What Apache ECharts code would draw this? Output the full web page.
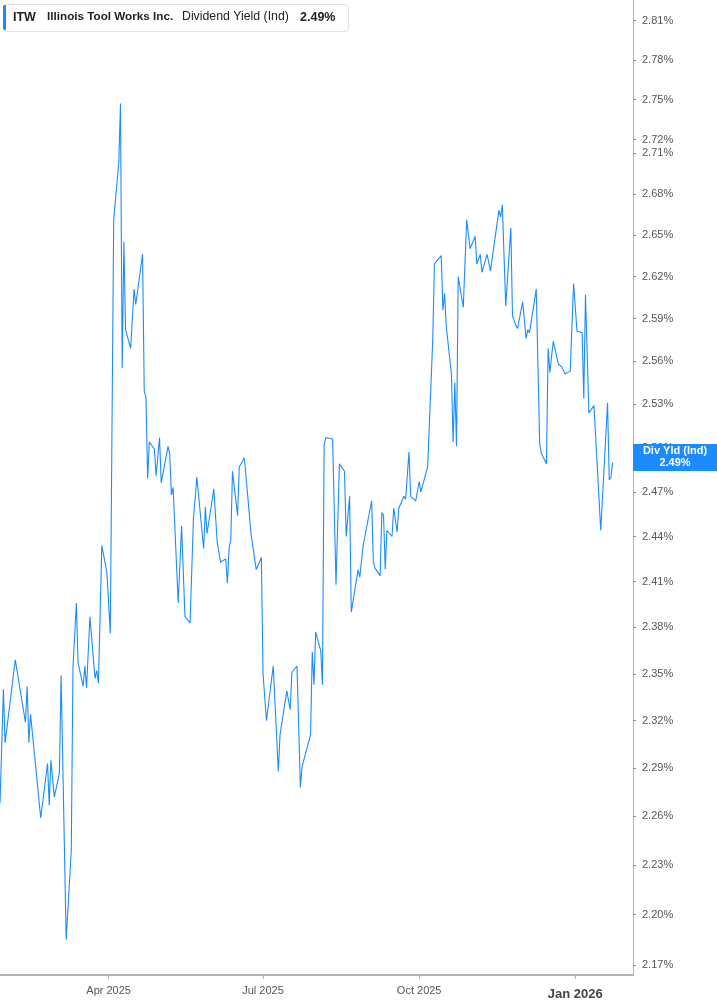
<!DOCTYPE html>
<html>
<head>
<meta charset="utf-8">
<script src="https://cdn.jsdelivr.net/npm/echarts@6/dist/echarts.min.js"></script>
<style>
html,body{margin:0;padding:0;background:#fff;}
#chart{width:717px;height:1005px;}
</style>
</head>
<body>
<div id="chart"></div>
<script>
const dates = [
'2025-01-27','2025-01-29','2025-01-30','2025-02-05','2025-02-11','2025-02-12','2025-02-13','2025-02-14','2025-02-20','2025-02-24',
'2025-02-25','2025-02-26','2025-02-27','2025-02-28','2025-03-03','2025-03-04','2025-03-07','2025-03-10','2025-03-11','2025-03-13',
'2025-03-14','2025-03-17','2025-03-18','2025-03-19','2025-03-21','2025-03-24','2025-03-25','2025-03-26','2025-03-28','2025-03-31',
'2025-04-02','2025-04-04','2025-04-07','2025-04-08','2025-04-09','2025-04-10','2025-04-11','2025-04-14','2025-04-16','2025-04-17',
'2025-04-21','2025-04-22','2025-04-23','2025-04-24','2025-04-25','2025-04-28','2025-04-29','2025-05-01','2025-05-02','2025-05-06',
'2025-05-07','2025-05-08','2025-05-09','2025-05-12','2025-05-14','2025-05-16','2025-05-19','2025-05-21','2025-05-22','2025-05-23',
'2025-05-27','2025-05-28','2025-05-29','2025-06-02','2025-06-04','2025-06-05','2025-06-06','2025-06-09','2025-06-10','2025-06-11',
'2025-06-12','2025-06-13','2025-06-16','2025-06-17','2025-06-18','2025-06-20','2025-06-24','2025-06-25','2025-06-27','2025-06-30',
'2025-07-01','2025-07-03','2025-07-07','2025-07-10','2025-07-11','2025-07-15','2025-07-17','2025-07-18','2025-07-21','2025-07-23',
'2025-07-24','2025-07-25','2025-07-29','2025-07-30','2025-07-31','2025-08-01','2025-08-04','2025-08-05','2025-08-06','2025-08-07',
'2025-08-08','2025-08-11','2025-08-13','2025-08-15','2025-08-18','2025-08-19','2025-08-21','2025-08-22','2025-08-26','2025-08-27',
'2025-08-29','2025-09-03','2025-09-04','2025-09-05','2025-09-08','2025-09-09','2025-09-10','2025-09-11','2025-09-12','2025-09-15',
'2025-09-16','2025-09-18','2025-09-19','2025-09-22','2025-09-23','2025-09-25','2025-09-26','2025-09-29','2025-10-01','2025-10-02',
'2025-10-06','2025-10-09','2025-10-10','2025-10-14','2025-10-15','2025-10-16','2025-10-17','2025-10-20','2025-10-21','2025-10-22',
'2025-10-23','2025-10-24','2025-10-27','2025-10-29','2025-10-31','2025-11-03','2025-11-04','2025-11-05','2025-11-06','2025-11-07',
'2025-11-10','2025-11-12','2025-11-13','2025-11-17','2025-11-18','2025-11-19','2025-11-20','2025-11-21','2025-11-24','2025-11-25',
'2025-11-27','2025-11-28','2025-12-01','2025-12-03','2025-12-04','2025-12-05','2025-12-09','2025-12-11','2025-12-12','2025-12-15',
'2025-12-16','2025-12-17','2025-12-19','2025-12-22','2025-12-24','2025-12-26','2025-12-29','2025-12-31','2026-01-02','2026-01-05',
'2026-01-06','2026-01-07','2026-01-09','2026-01-12','2026-01-16','2026-01-20','2026-01-21','2026-01-22','2026-01-23'
];
const yields = [
2.268,2.340,2.306,2.359,2.319,2.342,2.306,2.324,2.259,2.293,
2.267,2.295,2.296,2.272,2.287,2.349,2.185,2.239,2.354,2.396,
2.357,2.342,2.355,2.341,2.387,2.347,2.352,2.344,2.434,2.416,
2.376,2.661,2.703,2.747,2.555,2.645,2.582,2.569,2.611,2.600,
2.636,2.539,2.535,2.479,2.504,2.499,2.481,2.507,2.476,2.501,
2.496,2.468,2.473,2.396,2.447,2.387,2.383,2.452,2.452,2.480,
2.432,2.460,2.442,2.472,2.436,2.437,2.423,2.425,2.409,2.432,
2.438,2.484,2.454,2.487,2.487,2.493,2.441,2.441,2.418,2.426,
2.350,2.320,2.355,2.288,2.311,2.339,2.327,2.351,2.355,2.278,
2.291,2.292,2.311,2.364,2.343,2.377,2.365,2.343,2.502,2.507,
2.506,2.506,2.408,2.489,2.484,2.440,2.467,2.390,2.418,2.413,
2.434,2.464,2.423,2.419,2.414,2.456,2.454,2.418,2.444,2.440,
2.459,2.443,2.459,2.467,2.465,2.497,2.467,2.464,2.477,2.470,
2.487,2.575,2.629,2.635,2.596,2.608,2.584,2.551,2.504,2.545,
2.501,2.620,2.598,2.661,2.640,2.649,2.629,2.628,2.636,2.623,
2.636,2.624,2.624,2.668,2.663,2.672,2.672,2.599,2.655,2.592,
2.585,2.583,2.602,2.576,2.582,2.580,2.611,2.503,2.496,2.489,
2.569,2.552,2.574,2.558,2.556,2.551,2.553,2.615,2.581,2.580,
2.534,2.607,2.524,2.529,2.444,2.531,2.478,2.480,2.490
];
const yTicks = [2.81,2.78,2.75,2.72,2.71,2.68,2.65,2.62,2.59,2.56,2.53,2.50,2.47,2.44,2.41,2.38,2.35,2.32,2.29,2.26,2.23,2.20,2.17];
const xTicks = ['2025-04-01','2025-07-01','2025-10-01','2026-01-01'];
const xTickLabels = ['Apr 2025','Jul 2025','Oct 2025','Jan 2026'];
const xRange = ['2025-01-27','2026-02-04'];
const yRange = [2.164, 2.826];
const lastLabel = ['Div Yld (Ind)', '2.49%'];
const legendParts = ['ITW', 'Illinois Tool Works Inc.', 'Dividend Yield (Ind)', '2.49%'];

const ts = s => { const p = s.split('-').map(Number); return Date.UTC(p[0], p[1]-1, p[2]); };
const BLUE = '#1a8cff';
const FONT = 'Liberation Sans, Arial, sans-serif';

const seriesData = dates.map((d, i) => [ts(d), Math.log(yields[i])]);
const xTickVals = xTicks.map(ts);

const chart = echarts.init(document.getElementById('chart'), null, {renderer: 'canvas'});
chart.setOption({
  animation: false,
  grid: {left: 0, right: 84, top: 0, bottom: 30, containLabel: false},
  xAxis: {
    type: 'value',
    min: ts(xRange[0]), max: ts(xRange[1]),
    axisLine: {show: true, lineStyle: {color: '#b4b4b4', width: 2}},
    axisTick: {show: true, length: 4, lineStyle: {color: '#b4b4b4', width: 1}, customValues: xTickVals},
    axisLabel: {
      show: true, margin: 10, customValues: xTickVals,
      fontFamily: FONT, fontSize: 11, color: '#555',
      formatter: v => {
        const i = xTickVals.indexOf(v);
        if (i < 0) return '';
        return i === 3 ? '{b|' + xTickLabels[i] + '}' : xTickLabels[i];
      },
      rich: {b: {fontFamily: FONT, fontSize: 13, fontWeight: 'bold', color: '#444', padding: [3, 0, 0, 0]}}
    },
    splitLine: {show: false}
  },
  yAxis: {
    type: 'value', position: 'right',
    min: Math.log(yRange[0]), max: Math.log(yRange[1]),
    axisLine: {show: true, lineStyle: {color: '#b4b4b4', width: 1}},
    axisTick: {show: true, inside: false, length: 3, lineStyle: {color: '#888'}, customValues: yTicks.map(Math.log)},
    axisLabel: {
      show: true, margin: 9, customValues: yTicks.map(Math.log),
      fontFamily: FONT, fontSize: 11, color: '#555',
      formatter: v => Math.exp(v).toFixed(2) + '%'
    },
    splitLine: {show: false}
  },
  series: [{
    type: 'line',
    data: seriesData,
    showSymbol: false,
    symbol: 'none',
    lineStyle: {color: BLUE, width: 1.1},
    markPoint: {
      silent: true,
      z: 20,
      data: [{
        coord: [ts(xRange[1]), Math.log(yields[yields.length - 1])],
        symbol: 'rect',
        symbolSize: [84, 27],
        symbolOffset: [42, -5],
        itemStyle: {color: BLUE},
        label: {
          show: true, position: 'inside',
          formatter: lastLabel.join('\n'),
          color: '#fff', fontFamily: FONT, fontSize: 11, fontWeight: 'bold', lineHeight: 12, align: 'center'
        }
      }]
    }
  }],
  graphic: [
    {type: 'rect', left: 3, top: 4, z: 50, shape: {width: 345, height: 27, r: 3},
     style: {fill: '#fff', stroke: '#e3e3e3', lineWidth: 1}},
    {type: 'rect', left: 3, top: 5, z: 51, shape: {width: 3, height: 25, r: [2, 0, 0, 2]}, style: {fill: BLUE}},
    {type: 'text', left: 13, top: 11, z: 52,
     style: {text: legendParts[0], font: 'bold 12.5px ' + FONT, fill: '#222'}},
    {type: 'text', left: 47, top: 11, z: 52,
     style: {text: legendParts[1], font: 'bold 11.7px ' + FONT, fill: '#222'}},
    {type: 'text', left: 182, top: 11, z: 52,
     style: {text: legendParts[2], font: '12.3px ' + FONT, fill: '#222'}},
    {type: 'text', left: 300, top: 11, z: 52,
     style: {text: legendParts[3], font: 'bold 12.5px ' + FONT, fill: '#222'}}
  ]
});
</script>
</body>
</html>
